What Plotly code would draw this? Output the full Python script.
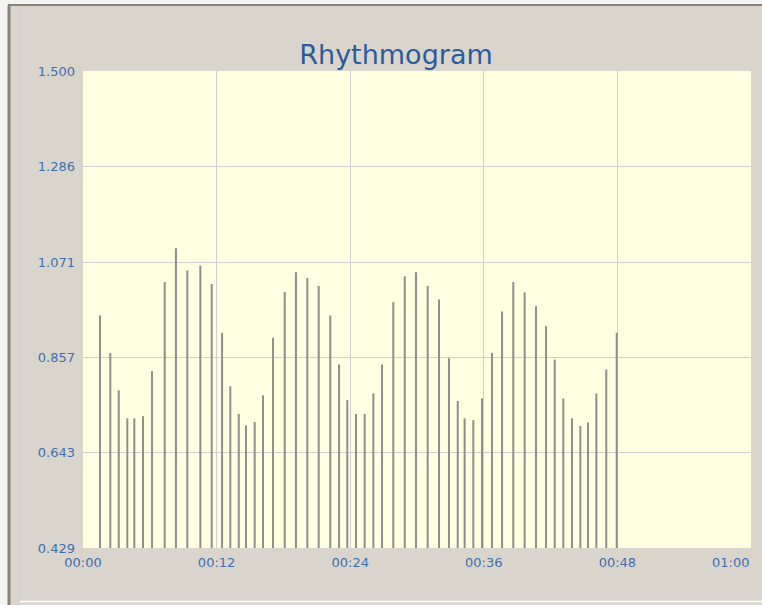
import plotly.graph_objects as go

# Beat times (seconds from start) and RR interval lengths (seconds)
beat_times = [
    1.53, 2.45, 3.21, 3.98, 4.61, 5.39, 6.20, 7.34, 8.35, 9.37,
    10.54, 11.56, 12.49, 13.23, 13.99, 14.64, 15.42, 16.17, 17.07, 18.12,
    19.13, 20.15, 21.17, 22.21, 23.00, 23.74, 24.52, 25.30, 26.08, 26.86,
    27.87, 28.90, 29.91, 30.96, 31.98, 32.87, 33.66, 34.28, 35.06, 35.84,
    36.74, 37.64, 38.65, 39.67, 40.69, 41.59, 42.37, 43.14, 43.92, 44.67,
    45.36, 46.11, 47.00, 47.94,
]
rr_intervals = [
    0.951, 0.867, 0.783, 0.720, 0.720, 0.725, 0.826, 1.026, 1.102, 1.052,
    1.063, 1.022, 0.912, 0.792, 0.730, 0.704, 0.712, 0.772, 0.901, 1.004,
    1.048, 1.035, 1.017, 0.951, 0.841, 0.761, 0.730, 0.730, 0.776, 0.841,
    0.981, 1.039, 1.048, 1.017, 0.987, 0.855, 0.759, 0.720, 0.716, 0.765,
    0.867, 0.960, 1.026, 1.003, 0.972, 0.927, 0.852, 0.765, 0.720, 0.703,
    0.711, 0.776, 0.830, 0.912,
]

y_ticks = [0.429, 0.643, 0.857, 1.071, 1.286, 1.500]
x_ticks = [0, 12, 24, 36, 48, 60]
x_tick_labels = ["00:00", "00:12", "00:24", "00:36", "00:48", "01:00"]

Y_MIN, Y_MAX = 0.429, 1.500
X_MIN, X_MAX = 0, 60

# Each interval is drawn as a thin vertical stick from the axis floor
xs, ys = [], []
for t, v in zip(beat_times, rr_intervals):
    xs += [t, t, None]
    ys += [Y_MIN, v, None]

fig = go.Figure()
fig.add_trace(go.Scatter(
    x=xs, y=ys, mode="lines",
    line=dict(color="#8e8e8a", width=2),
    hoverinfo="skip", showlegend=False,
))

W, H = 762, 605
ML, MR, MT, MB = 83, 11, 71, 57
PW, PH = W - ML - MR, H - MT - MB


def px(x):
    return (x - ML) / PW


def py(y):
    return (H - MB - y) / PH


tick_font = dict(family="DejaVu Sans", size=13, color="#3f6fb0")

# Window frame around the chart panel
shapes = [
    dict(type="rect", xref="paper", yref="paper", x0=px(0), x1=px(8),
         y0=py(605), y1=py(0), fillcolor="#f4f4f2", line_width=0, layer="below"),
    dict(type="rect", xref="paper", yref="paper", x0=px(0), x1=px(762),
         y0=py(4), y1=py(0), fillcolor="#f4f4f2", line_width=0, layer="below"),
    dict(type="line", xref="paper", yref="paper", x0=px(8), x1=px(762),
         y0=py(5), y1=py(5), line=dict(color="#85837a", width=2)),
    dict(type="line", xref="paper", yref="paper", x0=px(9), x1=px(9),
         y0=py(5), y1=py(605), line=dict(color="#85837a", width=3)),
    dict(type="line", xref="paper", yref="paper", x0=px(20), x1=px(20),
         y0=py(8), y1=py(601), line=dict(color="#c8cad6", width=1)),
    dict(type="line", xref="paper", yref="paper", x0=px(20), x1=px(762),
         y0=py(601.5), y1=py(601.5), line=dict(color="#ffffff", width=1.5)),
]

# The last time label sits flush with the right edge of the plot
shown_labels = x_tick_labels[:-1] + [""]
annotations = [
    dict(text=x_tick_labels[-1], x=x_ticks[-1], xref="x", y=0, yref="paper",
         xanchor="right", yanchor="top", yshift=-5, showarrow=False,
         font=tick_font),
]

fig.update_layout(
    width=W, height=H,
    margin=dict(l=ML, r=MR, t=MT, b=MB),
    paper_bgcolor="#d9d5cd",
    plot_bgcolor="#fefee0",
    title=dict(
        text="Rhythmogram", x=396 / W, xanchor="center",
        y=1 - 55 / H, yanchor="middle",
        font=dict(family="DejaVu Sans", size=27, color="#2c5b9c"),
    ),
    xaxis=dict(
        range=[X_MIN, X_MAX], tickvals=x_ticks, ticktext=shown_labels,
        showgrid=True, gridcolor="#cfcfcf", gridwidth=1,
        zeroline=False, showline=False, ticks="",
        tickfont=tick_font, ticklabelstandoff=5,
    ),
    yaxis=dict(
        range=[Y_MIN, Y_MAX], tickvals=y_ticks,
        ticktext=[f"{v:.3f}" for v in y_ticks],
        showgrid=True, gridcolor="#cfcfcf", gridwidth=1,
        zeroline=False, showline=False, ticks="",
        tickfont=tick_font, ticklabelstandoff=7,
    ),
    shapes=shapes,
    annotations=annotations,
)

fig.write_html("out.html")
